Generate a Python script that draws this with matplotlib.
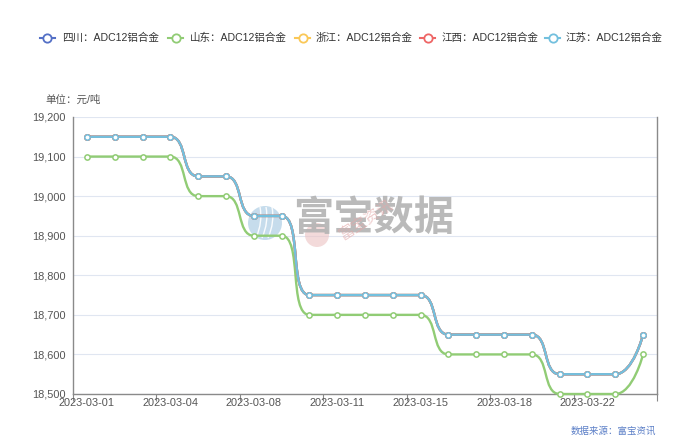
import numpy as np
import matplotlib
matplotlib.use("Agg")
import matplotlib.pyplot as plt
from matplotlib.path import Path
from matplotlib.patches import PathPatch, Circle
from matplotlib.transforms import IdentityTransform

plt.rcParams['font.family'] = ['Liberation Sans', 'Noto Sans CJK SC', 'DejaVu Sans']

dates = ["2023-03-01", "2023-03-02", "2023-03-03", "2023-03-04", "2023-03-06",
         "2023-03-07", "2023-03-08", "2023-03-09", "2023-03-10", "2023-03-11",
         "2023-03-13", "2023-03-14", "2023-03-15", "2023-03-16", "2023-03-17",
         "2023-03-18", "2023-03-20", "2023-03-21", "2023-03-22", "2023-03-23",
         "2023-03-24"]
sichuan = [19150, 19150, 19150, 19150, 19050, 19050, 18950, 18950, 18750, 18750,
           18750, 18750, 18750, 18650, 18650, 18650, 18650, 18550, 18550, 18550, 18650]
shandong = [19100, 19100, 19100, 19100, 19000, 19000, 18900, 18900, 18700, 18700,
            18700, 18700, 18700, 18600, 18600, 18600, 18600, 18500, 18500, 18500, 18600]
zhejiang = list(sichuan)
jiangxi = list(sichuan)
jiangsu = list(sichuan)

series_names = ["四川：ADC12铝合金", "山东：ADC12铝合金", "浙江：ADC12铝合金",
                "江西：ADC12铝合金", "江苏：ADC12铝合金"]
series_vals = [sichuan, shandong, zhejiang, jiangxi, jiangsu]
colors = ["#5470c6", "#91cc75", "#fac858", "#ee6666", "#73c0de"]

yticks = [18500, 18600, 18700, 18800, 18900, 19000, 19100, 19200]

W, H = 700, 440
fig = plt.figure(figsize=(7, 4.4), dpi=100)
L, R, T, B = 73, 657, 117, 394
ax = fig.add_axes([L / W, 1 - B / H, (R - L) / W, (B - T) / H])
n = len(dates)
ax.set_xlim(-0.5, n - 0.5)
ax.set_ylim(18500, 19200)

# grid
ax.set_yticks(yticks)
ax.set_yticklabels([f"{v:,}" for v in yticks], fontsize=7.9, color="#555555")
ax.yaxis.grid(True, color="#E0E6F1", linewidth=0.8)
ax.set_axisbelow(True)
ax.tick_params(axis='y', length=0, pad=5)

# x axis
ax.set_xticks(np.arange(-0.5, n, 3))
ax.set_xticklabels([])
ax.set_xticks(np.arange(0, n, 3), minor=True)
ax.set_xticklabels([dates[i] for i in range(0, n, 3)], minor=True, fontsize=7.9, color="#555555")
ax.tick_params(axis='x', which='major', length=5, color="#888888", width=0.8)
ax.tick_params(axis='x', which='minor', length=0, pad=3)

for s in ['left', 'bottom', 'right']:
    ax.spines[s].set_color("#8a8a8a")
    ax.spines[s].set_linewidth(1.0)
ax.spines['top'].set_visible(False)


def echarts_smooth_path(xs, ys, smooth=0.5):
    pts = ax.transData.transform(np.column_stack([xs, ys]))
    verts = [tuple(pts[0])]
    codes = [Path.MOVETO]
    prevX, prevY = pts[0]
    cpx0, cpy0 = prevX, prevY
    m = len(pts)
    for k in range(1, m):
        x, y = pts[k]
        if k + 1 >= m:
            cpx1, cpy1 = x, y
            ncx, ncy = x, y
        else:
            nextX, nextY = pts[k + 1]
            vx = nextX - prevX
            vy = nextY - prevY
            dx0, dx1 = x - prevX, nextX - x
            dy0, dy1 = y - prevY, nextY - y
            lp = np.hypot(dx0, dy0)
            ln = np.hypot(dx1, dy1)
            ratio = ln / (ln + lp)
            ncx = x + vx * smooth * ratio
            ncy = y + vy * smooth * ratio
            ncx = min(ncx, max(nextX, x)); ncy = min(ncy, max(nextY, y))
            ncx = max(ncx, min(nextX, x)); ncy = max(ncy, min(nextY, y))
            vx = ncx - x; vy = ncy - y
            cpx1 = x - vx * lp / ln
            cpy1 = y - vy * lp / ln
            cpx1 = min(cpx1, max(prevX, x)); cpy1 = min(cpy1, max(prevY, y))
            cpx1 = max(cpx1, min(prevX, x)); cpy1 = max(cpy1, min(prevY, y))
            vx = x - cpx1; vy = y - cpy1
            ncx = x + vx * ln / lp
            ncy = y + vy * ln / lp
        verts += [(cpx0, cpy0), (cpx1, cpy1), (x, y)]
        codes += [Path.CURVE4] * 3
        cpx0, cpy0 = ncx, ncy
        prevX, prevY = x, y
    return Path(verts, codes)


# watermark (behind the lines)
ax.add_artist(Circle((265, H - 223), 17, transform=IdentityTransform(),
                     facecolor="#b3d1e6", edgecolor='none', alpha=0.75, zorder=2, clip_on=False))
for dx in (-6, 0, 6):
    ax.add_artist(PathPatch(Path([(265 + dx - 3, H - 238), (265 + dx + 4, H - 222), (265 + dx + 1, H - 207)],
                                 [Path.MOVETO, Path.CURVE3, Path.CURVE3]),
                            facecolor='none', edgecolor='white', linewidth=1.0, alpha=0.9,
                            transform=IdentityTransform(), zorder=2.1, clip_on=False))
ax.add_artist(Circle((317, H - 235), 12, transform=IdentityTransform(),
                     facecolor="#ecc2c2", edgecolor='none', alpha=0.6, zorder=2, clip_on=False))
ax.text(374 / W, 1 - 219 / H, "富宝数据", transform=fig.transFigure, fontsize=29,
        fontweight='bold', color="#b3b3b3", alpha=0.9, va='center', ha='center', zorder=2.2)
ax.text(366 / W, 1 - 220 / H, "富宝资讯", transform=fig.transFigure, fontsize=11,
        color="#e3a9a9", alpha=0.6, rotation=33, va='center', ha='center', zorder=2.3)

xs = np.arange(n)
for i, (vals, c) in enumerate(zip(series_vals, colors)):
    p = echarts_smooth_path(xs, np.array(vals, dtype=float))
    patch = PathPatch(p, facecolor='none', edgecolor=c, linewidth=1.7,
                      transform=IdentityTransform(), zorder=3 + i * 0.1, clip_on=False)
    ax.add_artist(patch)
    ax.plot(xs, vals, linestyle='none', marker='o', markersize=3.8,
            markerfacecolor='white', markeredgecolor=c, markeredgewidth=1.1,
            zorder=4 + i * 0.1, clip_on=False)

# legend (manual)
leg_items = [(40, 62), (168, 190), (295, 316), (420, 442), (545, 566)]
ly = 1 - 38 / H
for (ix, tx), name, c in zip(leg_items, series_names, colors):
    fig.add_artist(plt.Line2D([ix / W, (ix + 15) / W], [ly, ly], color=c, linewidth=1.5))
    fig.add_artist(plt.Line2D([(ix + 7.5) / W], [ly], marker='o', markersize=6,
                              markerfacecolor='white', markeredgecolor=c, markeredgewidth=1.3))
    fig.text(tx / W, ly, name, fontsize=7.6, color="#333333", va='center', ha='left')

# unit label
fig.text(45 / W, 1 - 100 / H, "单位：元/吨", fontsize=7.6, color="#555555", va='center', ha='left')

# source
fig.text(656 / W, 1 - 431 / H, "数据来源：富宝资讯", fontsize=6.8, color="#5b7fc7", va='center', ha='right')

fig.savefig("out.png", dpi=100)
